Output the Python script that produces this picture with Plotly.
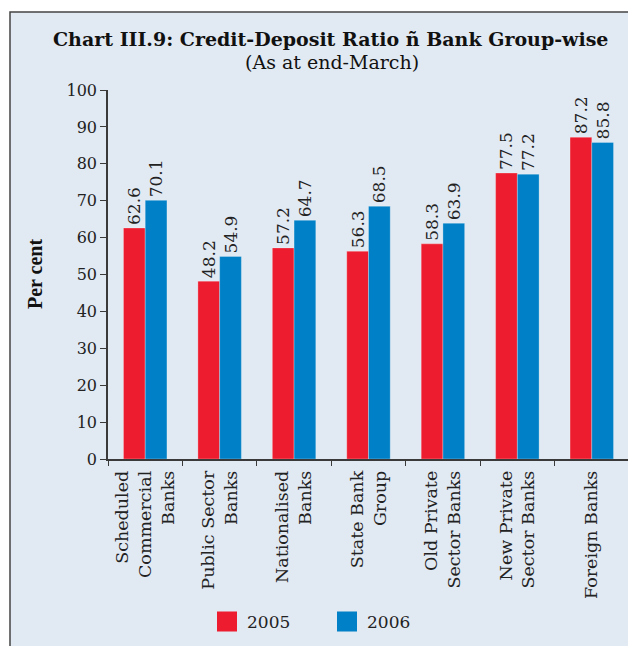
import plotly.graph_objects as go

categories = [
    "Scheduled<br>Commercial<br>Banks",
    "Public Sector<br>Banks",
    "Nationalised<br>Banks",
    "State Bank<br>Group",
    "Old Private<br>Sector Banks",
    "New Private<br>Sector Banks",
    "Foreign Banks",
]
values_2005 = [62.6, 48.2, 57.2, 56.3, 58.3, 77.5, 87.2]
values_2006 = [70.1, 54.9, 64.7, 68.5, 63.9, 77.2, 85.8]
series_names = ["2005", "2006"]
y_ticks = [0, 10, 20, 30, 40, 50, 60, 70, 80, 90, 100]

RED = "#ED1C2E"
BLUE = "#0080C6"
BG = "#E1E9F2"
AXIS = "#3A3A3A"
SERIF = "DejaVu Serif"

OFF = 8  # browser default body margin
W, H = 636 - OFF, 646 - OFF
L, R, T, B = 108 - OFF, 7, 90 - OFF, 187
pw = W - L - R
ph = H - T - B

def px_x(x):
    # x given in page pixels of the reference
    return (x - OFF - L) / pw

def px_y(y):
    return (H - B - (y - OFF)) / ph

fig = go.Figure()
for name, vals, col in [(series_names[0], values_2005, RED), (series_names[1], values_2006, BLUE)]:
    fig.add_trace(go.Bar(
        x=categories, y=vals, name=name,
        marker=dict(color=col, line=dict(color="rgba(255,255,255,0.35)", width=0.8)),
        text=[f"{v:.1f}" for v in vals],
        textposition="outside", textangle=-90,
        constraintext="none", cliponaxis=False,
        textfont=dict(family=SERIF, size=17, color="#222222"),
        showlegend=False,
    ))
# legend swatches
for name, col in [(series_names[0], RED), (series_names[1], BLUE)]:
    fig.add_trace(go.Scatter(
        x=[None], y=[None], mode="markers", name=name,
        marker=dict(symbol="square", size=16, color=col, line=dict(color=col, width=4)),
        showlegend=True,
    ))

shapes = [
    dict(type="rect", xref="paper", yref="paper",
         x0=px_x(10), x1=px_x(660), y0=px_y(670), y1=px_y(12),
         fillcolor=BG, line=dict(color="#444444", width=1.5), layer="below"),
]

annotations = [
    dict(text="<b>Chart III.9: Credit-Deposit Ratio ñ Bank Group-wise</b>",
         xref="paper", yref="paper", x=px_x(330), y=px_y(39),
         xanchor="center", yanchor="middle", showarrow=False,
         font=dict(family=SERIF, size=19, color="#111111")),
    dict(text="(As at end-March)",
         xref="paper", yref="paper", x=px_x(332), y=px_y(62),
         xanchor="center", yanchor="middle", showarrow=False,
         font=dict(family=SERIF, size=19, color="#111111")),
    dict(text="<b>Per cent</b>", textangle=-90,
         xref="paper", yref="paper", x=px_x(35), y=px_y(274),
         xanchor="center", yanchor="middle", showarrow=False,
         font=dict(family="Liberation Serif", size=20, color="#111111")),
]

fig.update_layout(
    width=W, height=H,
    margin=dict(l=L, r=R, t=T, b=B, pad=0, autoexpand=False),
    paper_bgcolor="white", plot_bgcolor="rgba(0,0,0,0)",
    barmode="group", bargap=0.416, bargroupgap=0,
    shapes=shapes, annotations=annotations,
    showlegend=True,
    legend=dict(orientation="h", xref="container", yref="container",
                x=199 / W, y=1 - 614 / H, xanchor="left", yanchor="middle",
                bgcolor="rgba(0,0,0,0)", entrywidth=75,
                font=dict(family=SERIF, size=17, color="#222222")),
    font=dict(family=SERIF, color="#222222"),
)
fig.update_xaxes(
    automargin=False,
    showline=True, linecolor=AXIS, linewidth=1.5,
    ticks="outside", tickson="boundaries", ticklen=5, tickcolor=AXIS,
    tickangle=-90, ticklabelstandoff=3,
    tickfont=dict(family=SERIF, size=17.5, color="#222222"),
    showgrid=False, zeroline=False,
)
fig.update_yaxes(
    automargin=False,
    range=[0, 100], tickvals=y_ticks,
    showline=True, linecolor=AXIS, linewidth=1.5,
    ticks="outside", ticklen=6, tickcolor=AXIS,
    tickfont=dict(family=SERIF, size=16, color="#222222"),
    showgrid=False, zeroline=False,
)
fig.write_html("out.html")
